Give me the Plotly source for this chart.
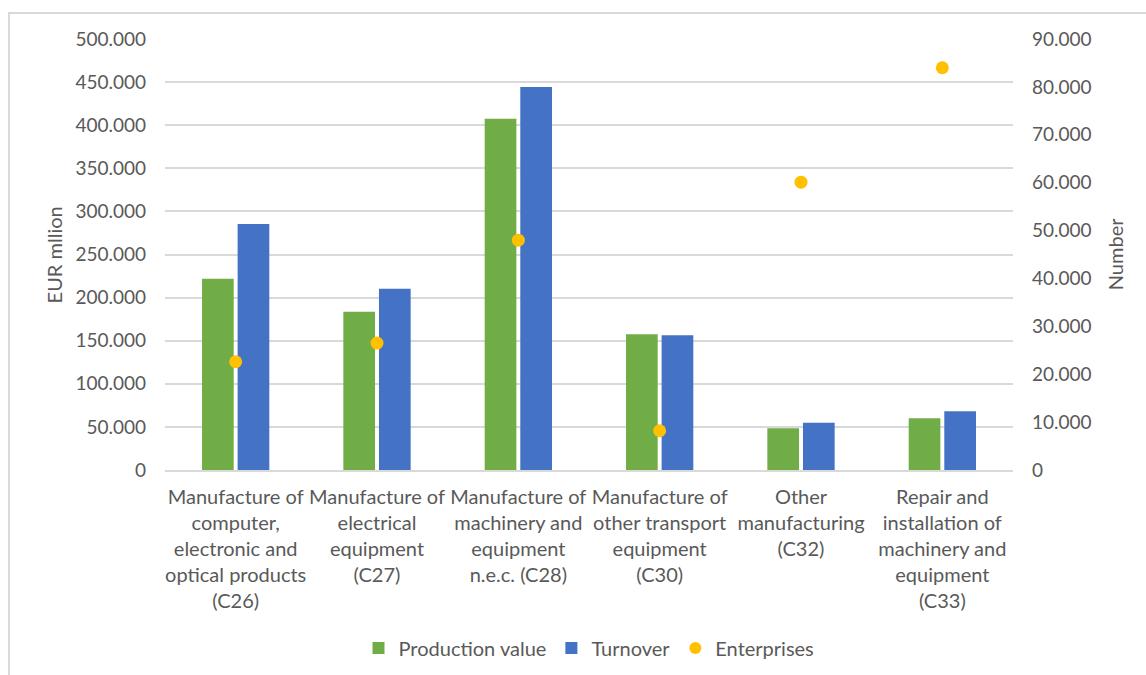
import plotly.graph_objects as go

# Manufacturing sub-sectors (NACE C26-C33)
categories = [
    "Manufacture of<br>computer,<br>electronic and<br>optical products<br>(C26)",
    "Manufacture of<br>electrical<br>equipment<br>(C27)",
    "Manufacture of<br>machinery and<br>equipment<br>n.e.c. (C28)",
    "Manufacture of<br>other transport<br>equipment<br>(C30)",
    "Other<br>manufacturing<br>(C32)",
    "Repair and<br>installation of<br>machinery and<br>equipment<br>(C33)",
]
production_value = [221900, 183600, 407600, 157400, 48300, 60000]   # EUR million
turnover = [285400, 210300, 444300, 156300, 54900, 68100]           # EUR million
enterprises = [22600, 26500, 48000, 8200, 60100, 84000]             # number

FONT = "Lato, 'Open Sans', sans-serif"
TXT = "#595959"
GRID = "#d9d9d9"

fig = go.Figure()
fig.add_trace(go.Bar(x=categories, y=production_value, name="Production value",
                     marker=dict(color="#70AD47", line=dict(width=0))))
fig.add_trace(go.Bar(x=categories, y=turnover, name="Turnover",
                     marker=dict(color="#4472C4", line=dict(width=0))))
fig.add_trace(go.Scatter(x=categories, y=enterprises, name="Enterprises", yaxis="y2",
                         mode="markers", marker=dict(color="#FFC000", size=13)))

fig.update_layout(
    width=1146, height=675,
    margin=dict(l=165, r=133, t=39, b=205, autoexpand=False),
    paper_bgcolor="white", plot_bgcolor="white",
    separators=",.",
    font=dict(family=FONT, size=19, color=TXT),
    barmode="group", bargap=0.496, bargroupgap=0.11,
    showlegend=True,
    legend=dict(orientation="h", x=0.5, xanchor="center", xref="paper",
                y=0.04, yanchor="middle", yref="container",
                font=dict(size=20, color=TXT), itemsizing="constant"),
    xaxis=dict(type="category", showgrid=False, showline=True, linecolor=GRID, linewidth=1.5,
               tickfont=dict(size=20, color=TXT), ticks="", ticklabelstandoff=8,
               automargin=False),
    yaxis=dict(range=[0, 500000], dtick=50000, tickformat=",d", showgrid=True,
               gridcolor=GRID, gridwidth=1.5, zeroline=False, showline=False,
               ticklabelstandoff=18, tickfont=dict(size=19, color=TXT), automargin=False),
    yaxis2=dict(range=[0, 90000], dtick=10000, tickformat=",d", overlaying="y", side="right",
                showgrid=False, zeroline=False, showline=False,
                ticklabelstandoff=18, tickfont=dict(size=19, color=TXT), automargin=False),
    annotations=[
        dict(text="EUR mllion", xref="paper", yref="paper", x=-0.131, y=0.5,
             textangle=-90, showarrow=False, font=dict(size=20, color=TXT),
             xanchor="center", yanchor="middle"),
        dict(text="Number", xref="paper", yref="paper", x=1.120, y=0.5,
             textangle=-90, showarrow=False, font=dict(size=20, color=TXT),
             xanchor="center", yanchor="middle"),
    ],
    shapes=[
        dict(type="rect", xref="paper", yref="paper", x0=-0.184, x1=1.17, y0=-0.5, y1=1.0603,
             line=dict(color=GRID, width=2), fillcolor="rgba(0,0,0,0)", layer="below"),
    ],
)

fig.write_html("out.html")
